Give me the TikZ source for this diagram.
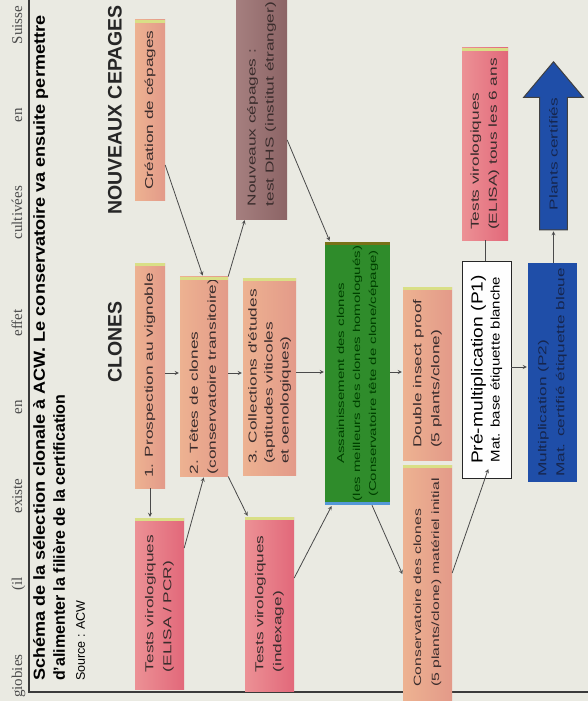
\documentclass[tikz,border=0pt]{standalone}
\usepackage{fontspec}
\setmainfont{Liberation Sans}
\newfontfamily\boxfont{Liberation Sans}[FakeStretch=1.5]
\newfontfamily\pmfont{Liberation Sans}[FakeStretch=1.2]
\newfontfamily\titlefont{Liberation Sans}[FakeStretch=1.13]
\newfontfamily\cutfont{Liberation Serif}
\usetikzlibrary{shapes.arrows}

\definecolor{paper}{HTML}{EAEAE2}
\definecolor{framegrey}{HTML}{3A3A3A}
\definecolor{inkgrey}{HTML}{4A4A4A}
\definecolor{salmonA}{HTML}{EDB291}
\definecolor{salmonB}{HTML}{E39A89}
\definecolor{redA}{HTML}{EC9195}
\definecolor{redB}{HTML}{E2687A}
\definecolor{mauveA}{HTML}{A57F7F}
\definecolor{mauveB}{HTML}{8C6465}
\definecolor{leafgreen}{HTML}{2F8C2B}
\definecolor{royalblue}{HTML}{1F4EA8}
\definecolor{stripyellow}{HTML}{D9DF86}
\definecolor{boxink}{HTML}{3A2C2C}
\definecolor{navyink}{HTML}{16264F}

\begin{document}
\begin{tikzpicture}[x=1pt,y=-1pt,
    box/.style={rotate=90,inner sep=2pt,align=left,text=boxink,
      font=\boxfont\fontsize{11.5}{18}\selectfont},
    salmon box/.style={box,left color=salmonA,right color=salmonB},
    red box/.style={box,left color=redA,right color=redB},
    mauve box/.style={box,left color=mauveA,right color=mauveB},
    green box/.style={box,fill=leafgreen,align=center,text=black!75!green,
      font=\boxfont\fontsize{10}{16}\selectfont},
    blue box/.style={box,fill=royalblue,text=navyink},
    plain box/.style={rotate=90,inner sep=2pt,align=center,fill=white!96!paper,
      draw=black!85,line width=0.9pt,font=\pmfont\fontsize{12.5}{17}\selectfont},
    big arrow/.style={rotate=90,single arrow,single arrow head extend=16pt,
      single arrow tip angle=80,minimum height=168pt,inner ysep=9pt,
      fill=royalblue,draw=black!75,line width=1pt,text=navyink,
      font=\boxfont\fontsize{11.5}{14}\selectfont},
    heading/.style={rotate=90,font=\bfseries\fontsize{19.5}{22}\selectfont,text=black!85},
    link/.style={->,>=stealth,shorten >=1pt,thick,draw=inkgrey},
    tie/.style={thick,draw=inkgrey},
    strip/.style={line width=3pt,draw=stripyellow}]

\useasboundingbox (0,0) rectangle (588,701);
\clip (0,0) rectangle (588,701);
\fill[paper] (0,0) rectangle (588,701);

\node[rotate=90,anchor=base west,inner sep=0pt,text=black!70,
  font=\cutfont\fontsize{15}{15}\selectfont] (cutline) at (22,698)
  {\makebox[692pt][s]{giobies (il existe en effet\hspace{70pt}cultivées en Suisse}};
\draw[framegrey,line width=1.2pt] (29,-5) |- (600,692);

\node[rotate=90,anchor=north west,align=left,inner sep=0pt,
  font=\bfseries\fontsize{16}{20}\selectfont] (title) at (33,681)
  {{\titlefont\bfseries Schéma de la sélection clonale à ACW. Le conservatoire va ensuite permettre}\\
   d'alimenter la filière de la certification\\
   {\mdseries\fontsize{12.5}{18}\selectfont Source : ACW}};

\node[heading] (clones) at (115,342) {CLONES};
\node[heading] (cepages) at (115,110) {NOUVEAUX CEPAGES};

\node[salmon box,minimum width=225pt,minimum height=30pt] (prosp) at (150,375.5) {1. Prospection au vignoble};
\node[salmon box,minimum width=189pt,minimum height=48pt] (tetes) at (204,376.5) {2. Têtes de clones\\(conservatoire transitoire)};
\node[salmon box,minimum width=197pt,minimum height=53pt,
  font=\boxfont\fontsize{11.5}{16}\selectfont] (collect) at (269.5,376.5) {3. Collections d'études\\(aptitudes viticoles\\et oenologiques)};
\node[salmon box,minimum width=180pt,minimum height=30pt] (creation) at (150,110) {Création de cépages};
\node[mauve box,minimum width=230pt,minimum height=51pt] (nouveaux) at (261.5,104) {Nouveaux cépages :\\test DHS (institut étranger)};
\node[green box,minimum width=263pt,minimum height=65pt] (assain) at (357.5,373.5)
  {Assainissement des clones\\(les meilleurs des clones homologués)\\(Conservatoire tête de clone/cépage)};
\node[salmon box,minimum width=173pt,minimum height=49pt] (insect) at (427.5,373.5) {Double insect proof\\(5 plants/clone)};
\node[salmon box,minimum width=235pt,minimum height=49pt,
  font=\boxfont\fontsize{10.5}{18}\selectfont] (conserv) at (427.5,582.5) {Conservatoire des clones\\(5 plants/clone) matériel initial};
\node[red box,minimum width=171pt,minimum height=49pt] (testpcr) at (159.5,603.5) {Tests virologiques\\(ELISA / PCR)};
\node[red box,minimum width=174pt,minimum height=49pt] (testidx) at (269.5,604) {Tests virologiques\\(indexage)};
\node[plain box,minimum width=217pt,minimum height=49pt] (premult) at (486.5,369.5)
  {{\fontsize{16}{18}\selectfont Pré-multiplication (P1)}\\Mat. base étiquette blanche};
\node[blue box,minimum width=219pt,minimum height=49pt] (mult) at (552.5,372.5) {Multiplication (P2)\\Mat. certifié étiquette bleue};
\node[red box,minimum width=192pt,minimum height=46pt] (testsix) at (485,144) {Tests virologiques\\(ELISA) tous les 6 ans};
\node[big arrow] (plants) at (553.5,154) {Plants certifiés};

\foreach \n in {prosp,tetes,collect,creation,insect,conserv,testpcr,testidx,testsix}
  \draw[strip] ([yshift=-1.5pt]\n.north east) -- ([yshift=-1.5pt]\n.south east);
\draw[strip,draw=olive!80!black] ([yshift=-1.5pt]assain.north east) -- ([yshift=-1.5pt]assain.south east);
\draw[strip,draw=cyan!60!blue!70] ([yshift=1.5pt]assain.north west) -- ([yshift=1.5pt]assain.south west);

\draw[link] (prosp.west) -- (prosp.west |- testpcr.east);
\draw[link] (testpcr.south |- 0,548) -- (tetes.west);
\draw[link] (tetes.south west) -- (testidx.east -| 248,0);
\draw[link] (prosp.south |- 0,373) -- (tetes.north |- 0,373);
\draw[link] (tetes.south |- 0,373) -- (collect.north |- 0,373);
\draw[link] (creation.south |- 0,165) -- (tetes.east -| 203,0);
\draw[link] (tetes.south east) -- (nouveaux.west -| 245,0);
\draw[link] (nouveaux.south |- 0,140) -- (assain.east -| 330,0);
\draw[link] (collect.south |- 0,372) -- (assain.north |- 0,372);
\draw[link] (assain.south |- 0,372) -- (insect.north |- 0,372);
\draw[link] (testidx.south |- 0,578) -- (assain.west -| 332,0);
\draw[link] (assain.west -| 372,0) -- (conserv.north |- 0,575);
\draw[link,shorten >=-10pt] (conserv.south |- 0,573) -- (premult.west -| 485,0);
\draw[link] (premult.south |- 0,367) -- (mult.north |- 0,367);
\draw[tie] (premult.east -| testsix.west) -- (testsix.west);
\draw[link] (mult.east -| plants.tail) -- (plants.tail);
\end{tikzpicture}
\end{document}
